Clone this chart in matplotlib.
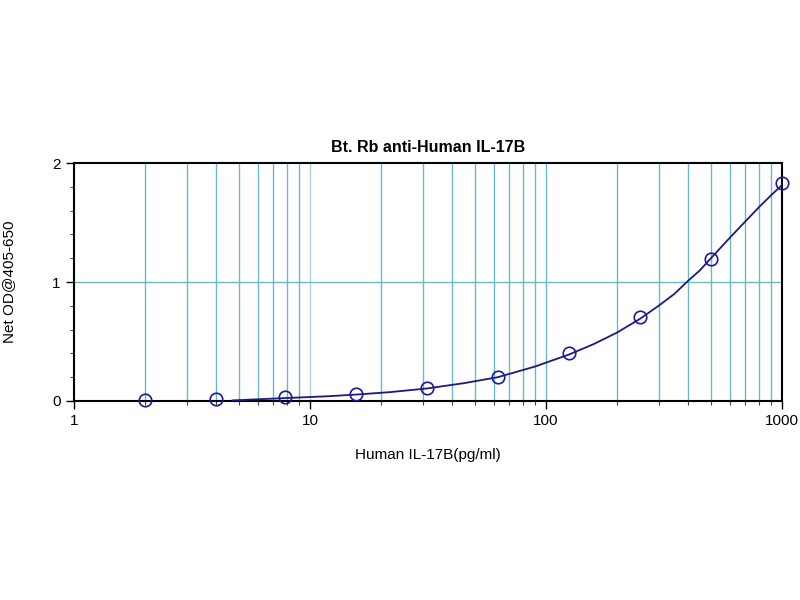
import matplotlib.pyplot as plt
from matplotlib.ticker import LogLocator, NullFormatter, MultipleLocator

plt.rcParams['font.family'] = ['Liberation Sans', 'DejaVu Sans']

# standard points (pg/ml) and measured OD
conc = [2, 4, 7.8, 15.6, 31.25, 62.5, 125, 250, 500, 1000]
od = [0.005, 0.02, 0.035, 0.055, 0.105, 0.20, 0.405, 0.71, 1.195, 1.835]

# fitted curve
fit_x = [4.7, 8, 12, 16, 22, 31.25, 45, 62.5, 90, 125, 160, 200, 250, 300,
         350, 395, 450, 500, 600, 700, 800, 900, 1000]
fit_y = [0.005, 0.025, 0.04, 0.055, 0.075, 0.105, 0.15, 0.20, 0.29, 0.39, 0.48,
         0.575, 0.69, 0.80, 0.90, 1.0, 1.10, 1.20, 1.37, 1.51, 1.63, 1.73, 1.815]

fig = plt.figure(figsize=(8, 6), dpi=100)
ax = fig.add_axes([0.0925, 0.3317, 0.885, 0.3966])

ax.set_xscale('log')
ax.set_xlim(1, 1000)
ax.set_ylim(0, 2)

grid_col = '#6bb8cc'
for d in [1, 10, 100]:
    for k in range(2, 10):
        ax.axvline(d * k, color=grid_col, lw=1, zorder=1)
ax.axvline(10, color='#a8d4e0', lw=1, zorder=1)
ax.axvline(100, color=grid_col, lw=1, zorder=1)
ax.axhline(1, color=grid_col, lw=1, zorder=1)

ax.plot(fit_x, fit_y, color='#1a1a80', lw=1.3, zorder=3)
ax.plot(conc, od, 'o', mfc='none', mec='#1a1a9a', ms=9, mew=1.2, zorder=4, clip_on=False)

ax.set_xticks([1, 10, 100, 1000])
ax.set_xticklabels(['1', '10', '100', '1000'])
ax.xaxis.set_minor_locator(LogLocator(base=10, subs=range(2, 10)))
ax.xaxis.set_minor_formatter(NullFormatter())
ax.set_yticks([0, 1, 2])
ax.yaxis.set_minor_locator(MultipleLocator(0.2))

ax.tick_params(axis='both', which='major', length=6, width=1, labelsize=11, color='black')
ax.tick_params(axis='both', which='minor', length=3, width=0.8, color='#444444')

for s in ax.spines.values():
    s.set_linewidth(1.5)

ax.set_title('Bt. Rb anti-Human IL-17B', fontsize=11.5, fontweight='bold', pad=8)
ax.set_xlabel('Human IL-17B(pg/ml)', fontsize=11, labelpad=14)
ax.set_ylabel('Net OD@405-650', fontsize=11, labelpad=26)

fig.savefig('out.png', dpi=100)
